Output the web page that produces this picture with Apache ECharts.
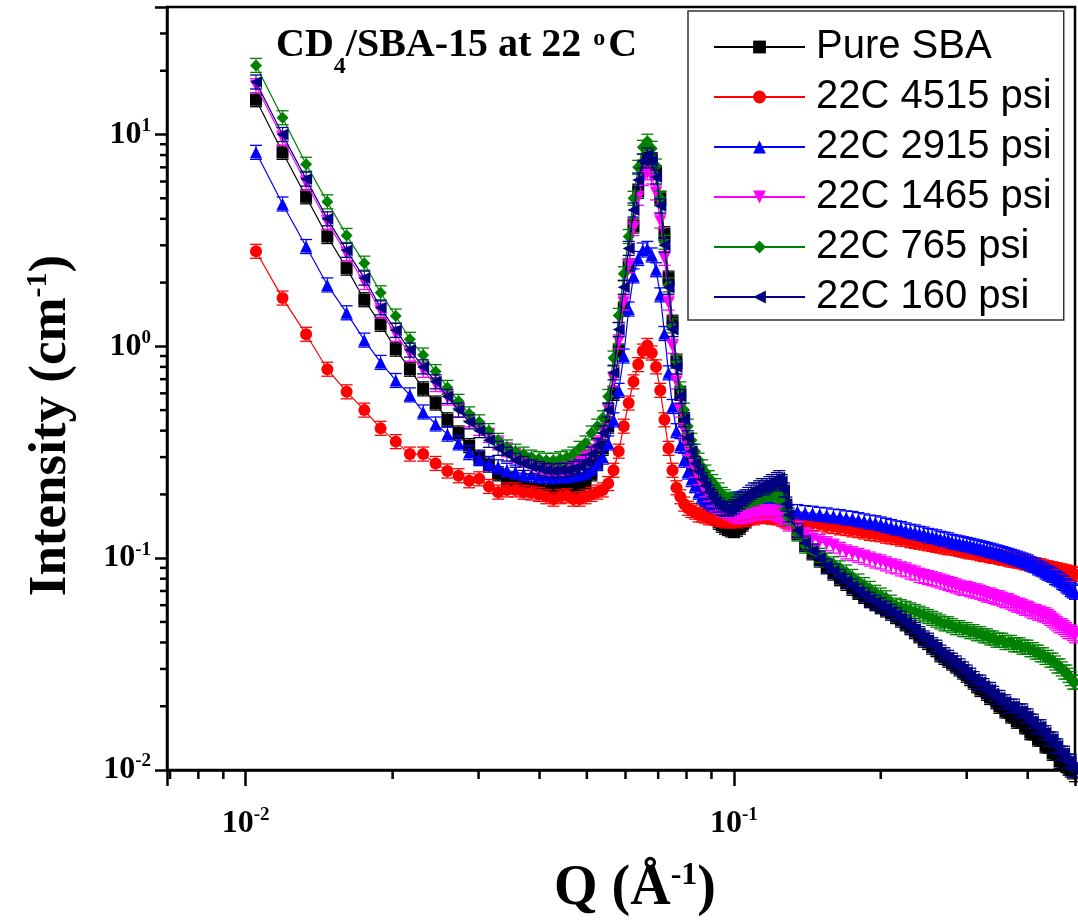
<!DOCTYPE html>
<html>
<head>
<meta charset="utf-8">
<script src="https://cdn.jsdelivr.net/npm/echarts@6/dist/echarts.min.js"></script>
<style>
  html, body { margin: 0; padding: 0; background: #fff; }
  #chart { width: 1078px; height: 923px; }
</style>
</head>
<body>
<div id="chart"></div>
<script>
// Q values (1/A)
const qValues = [
  0.0105, 0.0119, 0.0133, 0.0147, 0.0161, 0.0175, 0.0189, 0.0203, 0.0217, 0.0231,
  0.0245, 0.0259, 0.0273, 0.0287, 0.0301, 0.0315, 0.0329, 0.0343, 0.0357, 0.0371,
  0.0385, 0.0399, 0.0413, 0.0427, 0.0441, 0.0455, 0.0469, 0.0483, 0.0497, 0.0511,
  0.0525, 0.0539, 0.0553, 0.0567, 0.0581, 0.0595, 0.0609, 0.0623, 0.0637, 0.0651,
  0.0665, 0.0679, 0.0693, 0.0707, 0.0721, 0.0735, 0.0749, 0.0763, 0.0777, 0.0791,
  0.0805, 0.0819, 0.0833, 0.0847, 0.0861, 0.0875, 0.0889, 0.0903, 0.0917, 0.0931,
  0.0945, 0.0959, 0.0973, 0.0987, 0.1001, 0.1015, 0.1029, 0.1043, 0.1057, 0.1071,
  0.1085, 0.1099, 0.1113, 0.1127, 0.1141, 0.1155, 0.1169, 0.1183, 0.1197, 0.1211,
  0.1225, 0.1239, 0.1253, 0.1267, 0.1281, 0.1295,
  0.135, 0.14, 0.145, 0.15, 0.155, 0.16, 0.165, 0.17, 0.175, 0.18,
  0.185, 0.19, 0.195, 0.2, 0.205, 0.21, 0.215, 0.22, 0.225, 0.23,
  0.235, 0.24, 0.245, 0.25, 0.255, 0.26, 0.265, 0.27, 0.275, 0.28,
  0.285, 0.29, 0.295, 0.3, 0.305, 0.31, 0.315, 0.32, 0.325, 0.33,
  0.335, 0.34, 0.345, 0.35, 0.355, 0.36, 0.365, 0.37, 0.375, 0.38,
  0.385, 0.39, 0.395, 0.4, 0.405, 0.41, 0.415, 0.42, 0.425, 0.43,
  0.435, 0.44, 0.445, 0.45, 0.455, 0.46, 0.465, 0.47, 0.475, 0.48,
  0.485, 0.49, 0.495, 0.5
]

// intensities (cm-1)
const pureSBA = [
  14.6, 8.24, 5.08, 3.30, 2.34, 1.66, 1.27, 0.97, 0.78, 0.63,
  0.54, 0.45, 0.39, 0.34, 0.30, 0.275, 0.25, 0.235, 0.225, 0.218,
  0.213, 0.21, 0.208, 0.21, 0.21, 0.212, 0.215, 0.22, 0.23, 0.25,
  0.28, 0.33, 0.42, 0.6, 0.95, 1.5, 2.4, 3.7, 5.4, 7.0,
  7.8, 7.6, 6.6, 5.0, 3.4, 2.1, 1.3, 0.85, 0.6, 0.45,
  0.36, 0.3, 0.26, 0.23, 0.21, 0.19, 0.175, 0.165, 0.155, 0.148,
  0.143, 0.14, 0.138, 0.136, 0.135, 0.137, 0.14, 0.145, 0.15, 0.155,
  0.16, 0.165, 0.17, 0.18, 0.185, 0.19, 0.2, 0.205, 0.21, 0.21,
  0.22, 0.215, 0.205, 0.19, 0.17, 0.155,
  0.132, 0.116, 0.106, 0.098, 0.091, 0.085, 0.08, 0.076, 0.072, 0.069,
  0.066, 0.063, 0.061, 0.059, 0.057, 0.055, 0.053, 0.051, 0.049, 0.047,
  0.045, 0.043, 0.041, 0.04, 0.038, 0.037, 0.035, 0.034, 0.033, 0.032,
  0.031, 0.03, 0.029, 0.028, 0.027, 0.026, 0.025, 0.024, 0.024, 0.023,
  0.022, 0.022, 0.021, 0.02, 0.02, 0.019, 0.019, 0.018, 0.018, 0.017,
  0.017, 0.017, 0.016, 0.016, 0.015, 0.015, 0.015, 0.014, 0.014, 0.014,
  0.013, 0.013, 0.013, 0.012, 0.012, 0.012, 0.011, 0.011, 0.011, 0.0105,
  0.0102, 0.01, 0.0098, 0.0095
]
const psi4515 = [
  2.81, 1.69, 1.14, 0.78, 0.61, 0.50, 0.41, 0.355, 0.31, 0.31,
  0.28, 0.258, 0.245, 0.232, 0.237, 0.218, 0.205, 0.21, 0.21, 0.205,
  0.203, 0.2, 0.195, 0.19, 0.195, 0.197, 0.19, 0.19, 0.195, 0.2,
  0.205, 0.21, 0.225, 0.26, 0.32, 0.42, 0.54, 0.68, 0.82, 0.95,
  1.01, 0.93, 0.8, 0.62, 0.45, 0.33, 0.26, 0.215, 0.195, 0.18,
  0.172, 0.168, 0.165, 0.16, 0.16, 0.158, 0.155, 0.157, 0.155, 0.152,
  0.154, 0.15, 0.152, 0.15, 0.152, 0.15, 0.153, 0.155, 0.152, 0.156,
  0.158, 0.155, 0.158, 0.16, 0.157, 0.16, 0.158, 0.16, 0.156, 0.158,
  0.155, 0.157, 0.153, 0.152, 0.15, 0.148,
  0.15, 0.148, 0.146, 0.145, 0.142, 0.141, 0.139, 0.138, 0.136, 0.135,
  0.133, 0.131, 0.13, 0.129, 0.127, 0.126, 0.125, 0.123, 0.123, 0.121,
  0.12, 0.119, 0.118, 0.117, 0.116, 0.115, 0.114, 0.113, 0.112, 0.112,
  0.111, 0.11, 0.109, 0.108, 0.107, 0.107, 0.106, 0.105, 0.104, 0.104,
  0.103, 0.102, 0.102, 0.101, 0.1, 0.1, 0.099, 0.098, 0.098, 0.097,
  0.097, 0.096, 0.095, 0.095, 0.094, 0.093, 0.093, 0.092, 0.092, 0.091,
  0.09, 0.09, 0.089, 0.089, 0.088, 0.088, 0.087, 0.087, 0.086, 0.086,
  0.085, 0.085, 0.084, 0.084
]
const psi2915 = [
  8.24, 4.7, 2.96, 1.95, 1.44, 1.07, 0.84, 0.69, 0.59, 0.49,
  0.43, 0.385, 0.35, 0.315, 0.295, 0.28, 0.27, 0.26, 0.255, 0.25,
  0.248, 0.245, 0.245, 0.243, 0.245, 0.245, 0.248, 0.25, 0.255, 0.265,
  0.28, 0.3, 0.35, 0.45, 0.62, 0.9, 1.5, 2.15, 2.6, 2.85,
  2.9, 2.7, 2.3, 1.75, 1.15, 0.75, 0.52, 0.4, 0.34, 0.29,
  0.255, 0.235, 0.22, 0.205, 0.195, 0.19, 0.185, 0.18, 0.178, 0.175,
  0.178, 0.18, 0.182, 0.185, 0.188, 0.19, 0.19, 0.192, 0.19, 0.185,
  0.183, 0.18, 0.182, 0.18, 0.183, 0.18, 0.182, 0.178, 0.18, 0.176,
  0.178, 0.172, 0.17, 0.168, 0.165, 0.165,
  0.166, 0.164, 0.163, 0.161, 0.16, 0.158, 0.157, 0.155, 0.154, 0.152,
  0.15, 0.148, 0.147, 0.145, 0.143, 0.141, 0.139, 0.138, 0.136, 0.134,
  0.133, 0.131, 0.13, 0.128, 0.127, 0.126, 0.124, 0.123, 0.122, 0.12,
  0.119, 0.118, 0.117, 0.116, 0.115, 0.114, 0.113, 0.112, 0.111, 0.11,
  0.109, 0.108, 0.107, 0.106, 0.105, 0.104, 0.103, 0.102, 0.101, 0.1,
  0.099, 0.098, 0.097, 0.096, 0.094, 0.093, 0.092, 0.09, 0.089, 0.088,
  0.086, 0.085, 0.084, 0.083, 0.081, 0.08, 0.079, 0.077, 0.076, 0.074,
  0.073, 0.071, 0.07, 0.069
]
const psi1465 = [
  17.0, 9.6, 5.9, 3.85, 2.72, 2.0, 1.47, 1.14, 0.92, 0.77,
  0.66, 0.57, 0.5, 0.45, 0.41, 0.38, 0.35, 0.325, 0.305, 0.29,
  0.28, 0.272, 0.267, 0.265, 0.265, 0.268, 0.275, 0.285, 0.3, 0.32,
  0.35, 0.4, 0.5, 0.7, 1.05, 1.6, 2.4, 3.6, 5.0, 6.2,
  6.6, 6.3, 5.3, 3.9, 2.6, 1.6, 1.0, 0.68, 0.5, 0.4,
  0.33, 0.29, 0.26, 0.24, 0.22, 0.21, 0.2, 0.19, 0.18, 0.175,
  0.17, 0.168, 0.165, 0.163, 0.16, 0.158, 0.157, 0.158, 0.16, 0.16,
  0.162, 0.163, 0.163, 0.165, 0.164, 0.166, 0.165, 0.166, 0.164, 0.165,
  0.163, 0.16, 0.158, 0.155, 0.15, 0.145,
  0.138, 0.129, 0.124, 0.12, 0.117, 0.114, 0.11, 0.107, 0.105, 0.103,
  0.101, 0.099, 0.097, 0.096, 0.094, 0.092, 0.091, 0.089, 0.088, 0.086,
  0.085, 0.083, 0.082, 0.081, 0.08, 0.079, 0.078, 0.077, 0.076, 0.075,
  0.074, 0.073, 0.072, 0.072, 0.071, 0.07, 0.07, 0.069, 0.068, 0.067,
  0.067, 0.066, 0.065, 0.065, 0.064, 0.063, 0.063, 0.062, 0.061, 0.06,
  0.06, 0.059, 0.058, 0.058, 0.057, 0.056, 0.056, 0.055, 0.055, 0.054,
  0.054, 0.053, 0.052, 0.051, 0.05, 0.049, 0.048, 0.048, 0.047, 0.046,
  0.045, 0.045, 0.044, 0.043
]
const psi765 = [
  21.2, 12.0, 7.24, 4.81, 3.34, 2.47, 1.79, 1.39, 1.08, 0.91,
  0.76, 0.64, 0.55, 0.48, 0.44, 0.40, 0.36, 0.335, 0.32, 0.31,
  0.3, 0.295, 0.29, 0.29, 0.295, 0.3, 0.31, 0.33, 0.35, 0.39,
  0.42, 0.46, 0.58, 0.88, 1.4, 2.2, 3.3, 5.0, 7.0, 8.7,
  9.3, 8.6, 7.1, 5.0, 3.1, 1.95, 1.25, 0.85, 0.63, 0.5,
  0.42, 0.36, 0.32, 0.29, 0.27, 0.255, 0.24, 0.23, 0.22, 0.21,
  0.2, 0.195, 0.19, 0.187, 0.185, 0.185, 0.183, 0.185, 0.187, 0.19,
  0.19, 0.192, 0.195, 0.197, 0.2, 0.2, 0.2, 0.202, 0.205, 0.2,
  0.2, 0.198, 0.195, 0.185, 0.17, 0.155,
  0.13, 0.114, 0.108, 0.103, 0.098, 0.094, 0.09, 0.086, 0.082, 0.078,
  0.075, 0.072, 0.069, 0.067, 0.065, 0.062, 0.06, 0.059, 0.058, 0.057,
  0.056, 0.055, 0.054, 0.053, 0.052, 0.051, 0.05, 0.049, 0.049, 0.048,
  0.047, 0.047, 0.046, 0.046, 0.045, 0.045, 0.044, 0.044, 0.043, 0.043,
  0.042, 0.042, 0.041, 0.041, 0.041, 0.04, 0.04, 0.04, 0.039, 0.039,
  0.039, 0.038, 0.038, 0.038, 0.037, 0.037, 0.036, 0.036, 0.035, 0.035,
  0.034, 0.034, 0.033, 0.033, 0.032, 0.031, 0.031, 0.03, 0.029, 0.029,
  0.028, 0.027, 0.026, 0.026
]
const psi160 = [
  17.7, 10.0, 6.16, 4.0, 2.84, 2.1, 1.52, 1.19, 0.96, 0.80,
  0.68, 0.58, 0.5, 0.44, 0.4, 0.36, 0.33, 0.31, 0.29, 0.28,
  0.27, 0.265, 0.26, 0.258, 0.26, 0.26, 0.265, 0.27, 0.285, 0.31,
  0.34, 0.39, 0.5, 0.75, 1.2, 1.9, 2.9, 4.4, 6.1, 7.5,
  8.0, 7.5, 6.3, 4.6, 3.0, 1.9, 1.2, 0.8, 0.58, 0.45,
  0.37, 0.32, 0.28, 0.255, 0.235, 0.22, 0.205, 0.195, 0.185, 0.178,
  0.172, 0.17, 0.17, 0.172, 0.175, 0.18, 0.185, 0.19, 0.195, 0.2,
  0.205, 0.21, 0.21, 0.215, 0.22, 0.215, 0.22, 0.225, 0.23, 0.225,
  0.235, 0.24, 0.23, 0.21, 0.18, 0.16,
  0.135, 0.118, 0.108, 0.1, 0.092, 0.087, 0.082, 0.078, 0.074, 0.07,
  0.067, 0.064, 0.062, 0.06, 0.058, 0.056, 0.054, 0.052, 0.05, 0.048,
  0.046, 0.044, 0.042, 0.041, 0.039, 0.038, 0.036, 0.035, 0.034, 0.033,
  0.032, 0.031, 0.03, 0.029, 0.028, 0.027, 0.026, 0.026, 0.025, 0.024,
  0.024, 0.023, 0.022, 0.022, 0.021, 0.021, 0.02, 0.02, 0.02, 0.019,
  0.019, 0.019, 0.018, 0.018, 0.017, 0.017, 0.016, 0.016, 0.016, 0.015,
  0.015, 0.014, 0.014, 0.014, 0.013, 0.013, 0.012, 0.012, 0.012, 0.011,
  0.011, 0.011, 0.01, 0.01
]

const seriesNames = ['Pure SBA', '22C 4515 psi', '22C 2915 psi', '22C 1465 psi', '22C 765 psi', '22C 160 psi']
const seriesValues = [pureSBA, psi4515, psi2915, psi1465, psi765, psi160]
const seriesColors = ['#000000', '#ff0000', '#0000ff', '#ff00ff', '#008000', '#000080']
const seriesSymbols = ['rect', 'circle', 'triangle', 'triangle', 'diamond', 'triangle']
const seriesRotate = [0, 0, 0, 180, 0, 90]

// minor tick positions
const xMinorTicks = [0.007, 0.008, 0.009, 0.02, 0.03, 0.04, 0.05, 0.06, 0.07, 0.08, 0.09, 0.2, 0.3, 0.4, 0.5]
const yMinorTicks = [0.02, 0.03, 0.04, 0.05, 0.06, 0.07, 0.08, 0.09,
  0.2, 0.3, 0.4, 0.5, 0.6, 0.7, 0.8, 0.9,
  2, 3, 4, 5, 6, 7, 8, 9, 20, 30]

const xMin = 0.0069, xMax = 0.5
const yMin = 0.01, yMax = 40

const serif = 'Liberation Serif'
const sans = 'Liberation Sans'

function powLabel(v) {
  const l = Math.log10(v)
  const e = Math.round(l)
  if (Math.abs(l - e) > 0.01) return ''
  return '{b|10}{s|' + e + '}'
}
const labelRich = {
  b: { fontFamily: serif, fontWeight: 'bold', fontSize: 32, lineHeight: 36, color: '#000' },
  s: { fontFamily: serif, fontWeight: 'bold', fontSize: 19, lineHeight: 20, verticalAlign: 'top', color: '#000' }
}

const chart = echarts.init(document.getElementById('chart'))

// error bar caps drawn at every point
function errorBars(color) {
  return function (params, api) {
    const p = api.coord([api.value(0), api.value(1)])
    const h = 7, w = 6
    return {
      type: 'group',
      children: [
        { type: 'line', shape: { x1: p[0], y1: p[1] - h, x2: p[0], y2: p[1] + h }, style: { stroke: color, lineWidth: 1 } },
        { type: 'line', shape: { x1: p[0] - w, y1: p[1] - h, x2: p[0] + w, y2: p[1] - h }, style: { stroke: color, lineWidth: 1.3 } },
        { type: 'line', shape: { x1: p[0] - w, y1: p[1] + h, x2: p[0] + w, y2: p[1] + h }, style: { stroke: color, lineWidth: 1.3 } }
      ]
    }
  }
}

const dataSeries = []
seriesNames.forEach((name, i) => {
  const pts = qValues.map((q, j) => [q, seriesValues[i][j]])
  dataSeries.push({
    type: 'custom',
    silent: true,
    renderItem: errorBars(seriesColors[i]),
    data: pts,
    z: 2 + 2 * i
  })
  dataSeries.push({
    name: name,
    type: 'line',
    data: pts,
    symbol: seriesSymbols[i],
    symbolRotate: seriesRotate[i],
    symbolSize: 12,
    color: seriesColors[i],
    lineStyle: { width: 1.2, color: seriesColors[i] },
    itemStyle: { color: seriesColors[i] },
    z: 3 + 2 * i
  })
})

function minorTick(dir, len) {
  return function (params, api) {
    const p = api.coord([api.value(0), api.value(1)])
    const shape = dir === 'x'
      ? { x1: p[0], y1: p[1], x2: p[0], y2: p[1] + len }
      : { x1: p[0], y1: p[1], x2: p[0] - len, y2: p[1] }
    return { type: 'line', shape: shape, style: { stroke: '#000', lineWidth: 2.5 } }
  }
}

chart.setOption({
  animation: false,
  backgroundColor: '#fff',
  title: {
    text: '{a|CD}{sub|4}{a|/SBA-15 at 22 }{sup|o}{a|C}',
    left: 276,
    top: 13,
    padding: 0,
    textStyle: {
      rich: {
        a: { fontFamily: serif, fontWeight: 'bold', fontSize: 40, lineHeight: 66, color: '#000' },
        sub: { fontFamily: serif, fontWeight: 'bold', fontSize: 24, lineHeight: 24, verticalAlign: 'bottom', color: '#000' },
        sup: { fontFamily: serif, fontWeight: 'bold', fontSize: 24, lineHeight: 24, verticalAlign: 'top', padding: [14, 3, 0, 2], color: '#000' }
      }
    }
  },
  legend: {
    data: seriesNames,
    orient: 'vertical',
    left: 688,
    top: 11,
    padding: [16, 12, 3, 25],
    itemWidth: 91,
    itemHeight: 16,
    itemGap: 10,
    selectedMode: false,
    borderColor: '#333',
    borderWidth: 1.5,
    textStyle: { fontFamily: sans, fontSize: 40, lineHeight: 40, color: '#000', padding: [0, 0, 0, 6] }
  },
  grid: {
    left: 167, right: 3, top: 7, bottom: 147,
    show: true, borderColor: '#000', borderWidth: 2.5
  },
  xAxis: {
    type: 'log',
    logBase: 10,
    min: xMin,
    max: xMax,
    name: '{a|Q (Å}{s|-1}{a|)}',
    nameLocation: 'middle',
    nameGap: 90,
    nameTextStyle: {
      padding: [0, 0, 0, 28],
      rich: {
        a: { fontFamily: serif, fontWeight: 'bold', fontSize: 56, lineHeight: 60, color: '#000' },
        s: { fontFamily: serif, fontWeight: 'bold', fontSize: 32, verticalAlign: 'top', color: '#000' }
      }
    },
    splitLine: { show: false },
    axisLine: { onZero: false, lineStyle: { color: '#000', width: 2.5 } },
    axisTick: { show: true, length: 16, lineStyle: { color: '#000', width: 2.5 } },
    axisLabel: { margin: 36, formatter: powLabel, rich: labelRich, showMinLabel: true, showMaxLabel: true }
  },
  yAxis: {
    type: 'log',
    logBase: 10,
    min: yMin,
    max: yMax,
    name: '{a|Intensity (cm}{s|-1}{a|)}',
    nameLocation: 'middle',
    nameGap: 88,
    nameRotate: 90,
    nameTextStyle: {
      padding: [0, 74, 0, 0],
      rich: {
        a: { fontFamily: serif, fontWeight: 'bold', fontSize: 53, lineHeight: 56, color: '#000' },
        s: { fontFamily: serif, fontWeight: 'bold', fontSize: 30, verticalAlign: 'top', color: '#000' }
      }
    },
    splitLine: { show: false },
    axisLine: { onZero: false, lineStyle: { color: '#000', width: 2.5 } },
    axisTick: { show: true, length: 12, lineStyle: { color: '#000', width: 2.5 } },
    axisLabel: { margin: 16, formatter: powLabel, rich: labelRich }
  },
  series: dataSeries.concat([
    {
      type: 'custom',
      silent: true,
      clip: false,
      renderItem: minorTick('x', 9),
      data: xMinorTicks.map(v => [v, yMin]),
      z: 20
    },
    {
      type: 'custom',
      silent: true,
      clip: false,
      renderItem: minorTick('y', 7),
      data: yMinorTicks.map(v => [xMin, v]),
      z: 20
    }
  ])
})
</script>
</body>
</html>
